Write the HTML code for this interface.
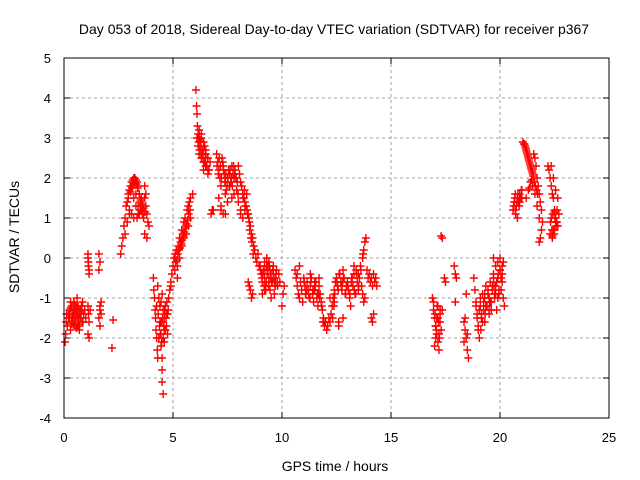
<!DOCTYPE html>
<html><head><meta charset="utf-8"><style>
body{margin:0;background:#fff}
svg{display:block;font-family:"Liberation Sans",sans-serif}
</style></head><body>
<svg id="c" width="640" height="480">
<text x="334" y="34" text-anchor="middle" font-size="14">Day 053 of 2018, Sidereal Day-to-day VTEC variation (SDTVAR) for receiver p367</text>
<text transform="translate(19,237) rotate(-90)" text-anchor="middle" font-size="14">SDTVAR / TECUs</text>
<text x="335" y="471" text-anchor="middle" font-size="14">GPS time / hours</text>
<g id="grid"></g><g id="ticks"></g><g id="marks"></g>
<rect x="64" y="58" width="545" height="360" fill="none" stroke="#000" stroke-width="1"/>
</svg>
<script>
const xTicks=[0,5,10,15,20,25];
const yTicks=[-4,-3,-2,-1,0,1,2,3,4,5];
const times=[0.05,0.08,0.1,0.12,0.15,0.2,0.25,0.3,0.35,0.4,0.45,0.5,0.55,0.6,0.65,0.7,0.75,0.8,0.85,0.9,0.3,0.4,0.5,0.6,0.7,0.8,0.2,0.35,0.45,0.55,0.65,0.75,0.85,0.95,1.0,
1.1,1.12,1.15,1.1,1.12,1.15,1.1,1.12,1.15,1.2,1.1,1.15,1.6,1.65,1.6,1.65,1.7,1.6,1.65,1.7,1.65,2.2,2.25,
2.6,2.65,2.7,2.75,2.8,2.85,2.9,2.95,3.0,2.8,2.9,3.0,3.05,3.1,3.15,3.2,3.25,3.3,3.35,3.4,3.45,3.5,3.55,3.6,3.2,3.3,3.4,3.5,3.6,3.65,3.7,3.75,3.8,3.85,3.9,3.7,3.8,3.7,3.75,3.0,3.1,3.2,3.3,3.4,3.5,
4.1,4.12,4.15,4.18,4.2,4.22,4.25,4.28,4.3,4.3,4.35,4.4,4.4,4.45,4.45,4.5,4.5,4.5,4.55,4.55,4.6,4.6,4.65,4.7,4.7,4.75,4.8,4.85,4.9,4.5,4.6,4.55,4.5,4.45,
4.9,4.95,5.0,5.05,5.1,5.15,5.2,5.25,5.3,5.35,5.4,5.45,5.5,5.55,5.6,5.65,5.7,5.75,5.8,5.2,5.3,5.4,5.5,5.6,5.7,5.8,5.9,
6.05,6.08,6.1,6.12,6.15,6.1,6.15,6.2,6.2,6.25,6.3,6.3,6.35,6.4,6.45,6.5,6.55,6.6,6.65,6.7,6.4,6.5,6.6,6.3,6.4,6.5,6.75,6.8,6.85,
7.0,7.05,7.1,7.15,7.2,7.25,7.3,7.35,7.4,7.45,7.5,7.55,7.6,7.65,7.7,7.75,7.8,7.85,7.9,7.95,7.1,7.2,7.3,7.4,7.5,7.6,7.7,7.8,7.2,7.4,
8.0,8.05,8.1,8.15,8.2,8.25,8.3,8.35,8.4,8.45,8.5,8.55,8.6,8.65,8.7,8.75,8.8,8.85,8.9,8.95,8.1,8.2,8.3,8.0,8.1,8.45,8.5,8.55,8.6,8.65,
9.0,9.05,9.1,9.15,9.2,9.25,9.3,9.35,9.4,9.45,9.5,9.55,9.6,9.65,9.7,9.75,9.8,9.85,9.1,9.2,9.3,9.4,9.5,9.6,9.7,9.2,9.4,9.6,9.9,10.0,10.05,10.1,
10.6,10.65,10.7,10.75,10.8,10.85,10.9,10.95,10.7,10.8,11.0,11.05,11.1,11.15,11.2,11.25,11.3,11.35,11.4,11.45,11.5,11.55,11.6,11.65,11.7,11.75,11.8,11.85,11.9,11.95,11.3,11.5,11.7,
12.0,12.05,12.1,12.15,12.2,12.25,12.3,12.35,12.4,12.45,12.5,12.55,12.6,12.65,12.7,12.75,12.8,12.85,12.9,12.95,12.2,12.4,12.6,12.8,
13.0,13.05,13.1,13.15,13.2,13.25,13.3,13.35,13.4,13.45,13.5,13.55,13.6,13.65,13.7,13.75,13.8,13.85,13.9,13.95,13.7,13.75,13.8,13.3,13.5,
14.0,14.05,14.1,14.15,14.2,14.25,14.3,14.35,14.1,14.15,14.2,
16.9,16.95,17.0,17.05,17.1,17.15,17.2,17.25,17.3,16.95,17.05,17.15,17.25,17.0,17.1,17.2,17.35,17.3,17.35,17.45,17.5,
17.9,17.95,18.0,17.95,18.35,18.4,18.45,18.5,18.55,18.4,18.5,18.45,18.35,
18.8,18.85,18.9,18.95,19.0,19.05,19.1,19.15,19.2,19.25,19.3,19.35,19.4,19.45,19.5,19.55,19.6,19.65,19.7,19.75,19.8,19.85,19.9,19.95,20.0,20.05,20.1,20.15,20.2,19.7,19.8,19.9,20.0,20.1,19.0,19.3,19.5,
20.6,20.65,20.7,20.75,20.8,20.85,20.9,20.95,21.0,21.05,21.1,21.15,21.2,21.25,21.3,21.35,21.4,21.45,21.5,21.55,21.6,21.65,21.7,21.75,21.8,21.85,21.9,21.95,21.2,21.3,21.4,21.5,21.6,21.7,21.8,21.9,21.85,21.8,
22.2,22.25,22.3,22.35,22.4,22.45,22.5,22.55,22.6,22.65,22.7,22.3,22.4,22.5,22.6,22.35,22.45,22.55,22.65,
0.25,0.3,0.38,0.42,0.48,0.52,0.58,0.62,0.68,0.72,0.78,0.82,0.33,0.47,0.57,0.67,0.77,0.87,0.43,0.63,
2.95,3.05,3.12,3.18,3.25,3.32,3.38,3.45,3.52,3.58,3.65,3.72,3.35,3.45,3.55,
4.25,4.32,4.38,4.42,4.48,4.52,4.58,4.62,4.68,4.72,4.78,4.35,4.45,4.65,4.75,
5.12,5.22,5.32,5.42,5.52,5.62,5.72,5.08,5.18,5.28,5.38,5.48,5.58,5.68,5.78,
6.18,6.22,6.28,6.32,6.38,6.42,6.48,6.52,6.58,6.62,6.28,6.38,6.48,6.2,6.25,
7.02,7.08,7.12,7.18,7.22,7.28,7.32,7.38,7.42,7.48,7.52,7.58,7.62,7.68,7.72,7.78,7.82,7.88,7.92,7.98,
8.22,8.28,8.32,8.38,8.42,8.48,8.52,8.58,8.62,8.68,
9.02,9.08,9.12,9.18,9.22,9.28,9.32,9.38,9.42,9.48,9.52,9.58,9.62,9.68,9.72,9.78,9.25,9.45,9.65,9.35,
11.02,11.12,11.22,11.32,11.42,11.52,11.62,11.72,11.82,11.92,11.08,11.28,11.48,11.68,11.88,
12.32,12.42,12.52,12.62,12.72,12.82,12.92,12.38,12.58,12.78,
13.02,13.12,13.22,13.32,13.42,13.52,13.62,13.72,13.18,13.38,
17.02,17.08,17.12,17.18,17.22,17.05,17.15,17.25,
18.9,18.95,19.05,19.1,19.15,19.25,19.3,19.35,19.45,19.5,19.55,19.65,19.7,19.75,19.85,19.9,19.95,20.05,20.1,20.15,19.2,19.4,19.6,19.8,20.0,19.12,19.32,19.52,19.72,19.92,
20.62,20.68,20.72,20.78,20.82,20.88,20.92,20.98,20.7,20.8,20.9,21.0,
21.12,21.18,21.22,21.28,21.32,21.38,21.42,21.48,21.52,21.58,21.62,21.68,21.72,21.35,21.45,
22.32,22.38,22.42,22.48,22.52,22.58,22.62,22.35,22.45,22.55,22.4,22.5];
const values=[-2.1,-1.9,-1.6,-1.4,-1.7,-1.5,-1.3,-1.8,-1.2,-1.5,-1.1,-1.6,-1.3,-1.4,-1.2,-1.7,-1.5,-1.3,-1.6,-1.4,-1.1,-1.5,-1.7,-1.0,-1.8,-1.2,-1.4,-1.6,-1.3,-1.2,-1.5,-1.4,-1.1,-1.3,-1.5,
0.0,-0.2,-0.4,0.1,-0.1,-0.3,-1.2,-1.4,-1.6,-1.3,-1.9,-2.0,0.1,-0.1,-0.3,-1.2,-1.4,-1.5,-1.7,-1.1,-1.3,-2.25,-1.55,
0.1,0.3,0.5,0.8,1.0,1.3,1.4,1.6,1.7,0.6,0.9,1.1,1.8,1.9,1.95,2.0,2.0,1.95,1.9,1.8,1.6,1.4,1.5,1.3,1.5,1.6,1.3,1.2,1.1,1.0,1.5,1.3,1.1,0.9,0.8,0.6,0.5,1.8,1.6,1.2,1.1,1.0,1.3,1.1,1.2,
-0.5,-0.8,-1.0,-1.3,-1.5,-1.8,-2.0,-2.3,-2.5,-0.7,-1.0,-1.2,-1.6,-1.9,-2.2,-2.5,-2.8,-3.1,-3.4,-2.0,-1.5,-1.8,-1.2,-1.4,-1.7,-1.9,-1.0,-0.8,-0.7,-1.6,-2.1,-1.3,-0.9,-1.1,
-0.6,-0.4,-0.2,0.0,0.1,0.2,-0.2,0.3,0.5,0.4,0.7,0.6,0.9,1.0,0.8,1.2,1.3,1.4,1.5,-0.5,0.0,0.3,0.5,0.6,0.8,1.0,1.6,
4.2,3.8,3.6,3.3,3.1,3.0,2.8,3.2,2.6,2.9,3.0,2.5,2.7,2.4,2.8,2.6,2.3,2.5,2.2,2.4,2.2,2.3,2.1,3.1,2.9,2.7,1.1,1.2,1.2,
2.6,2.4,2.2,2.0,1.8,2.5,2.3,2.1,1.9,1.7,2.0,2.2,2.1,1.9,2.3,2.1,2.0,2.2,2.0,1.9,1.5,1.3,1.1,1.6,1.4,1.8,1.5,1.6,1.2,1.1,
2.3,2.1,1.9,1.8,1.6,1.5,1.4,1.3,1.2,1.1,0.9,0.8,0.6,0.5,0.3,0.2,0.0,-0.1,0.1,-0.2,1.1,1.0,1.2,1.4,1.2,-0.6,-0.7,-0.8,-1.0,-0.9,
-0.2,-0.4,-0.6,-0.3,-0.5,-0.7,0.0,-0.3,-0.5,-0.8,-0.4,-0.6,-0.2,-0.9,-0.5,-0.3,-0.7,-0.4,-0.9,-0.8,-0.2,-0.6,-1.0,-0.5,-0.7,-0.1,-0.1,-0.3,-0.6,-1.2,-0.9,-0.7,
-0.3,-0.5,-0.7,-0.9,-1.0,-0.6,-0.8,-1.1,-0.4,-0.2,-0.5,-0.7,-0.9,-0.6,-0.8,-1.0,-0.7,-0.5,-0.9,-1.1,-0.8,-0.6,-1.0,-1.2,-0.7,-0.9,-1.1,-1.3,-1.5,-1.7,-0.4,-0.6,-0.5,
-1.6,-1.8,-1.7,-1.5,-1.6,-1.4,-1.2,-1.0,-0.8,-0.6,-0.5,-0.7,-1.7,-0.4,-0.6,-0.8,-0.3,-0.5,-0.9,-0.7,-1.0,-1.1,-1.6,-1.5,
-0.6,-0.8,-1.0,-1.2,-0.5,-0.7,-0.4,-0.9,-0.3,-0.6,-0.8,-0.5,-0.2,-0.7,0.0,0.2,0.4,0.5,-0.3,-0.5,-0.9,-1.1,-1.0,-0.2,-0.4,
-0.4,-0.6,-0.5,-0.7,-0.4,-0.6,-0.5,-0.7,-1.5,-1.6,-1.4,
-1.0,-1.3,-1.5,-1.7,-1.9,-2.1,-2.3,-1.4,-1.8,-1.1,-2.0,-1.2,-1.6,-2.2,-1.5,-1.9,-1.3,0.55,0.5,-0.5,-0.6,
-0.2,-0.4,-0.5,-1.1,-1.6,-1.8,-2.0,-2.3,-2.5,-1.5,-1.9,-0.9,-2.1,
-0.5,-0.8,-1.1,-1.4,-1.7,-2.0,-1.2,-1.5,-0.9,-1.3,-1.0,-0.7,-1.2,-0.9,-1.4,-0.6,-1.1,-0.8,-0.4,-1.0,-0.7,-1.3,-0.5,-0.9,-0.3,-0.8,-0.6,-0.1,-1.2,0.0,-0.2,-0.1,0.0,-0.4,-1.8,-1.6,-1.3,
1.2,1.4,1.6,1.3,1.5,1.4,1.6,1.5,1.7,2.9,2.85,2.8,2.7,2.6,2.5,2.4,2.3,2.2,2.1,2.6,2.5,2.3,2.0,1.8,1.6,1.4,1.2,0.9,1.5,1.7,1.9,1.8,1.6,1.3,1.0,0.7,0.5,0.4,
2.3,2.2,2.0,1.8,1.6,1.5,1.2,1.0,0.9,0.8,1.1,0.6,0.5,0.7,0.9,2.3,2.0,1.7,1.5,
-1.5,-1.25,-1.45,-1.65,-1.35,-1.55,-1.25,-1.45,-1.65,-1.35,-1.5,-1.2,-1.65,-1.15,-1.75,-1.5,-1.3,-1.6,-1.4,-1.7,
1.5,1.65,1.75,1.85,1.9,1.85,1.75,1.6,1.45,1.35,1.25,1.15,1.0,1.1,1.2,
-1.2,-1.4,-1.7,-1.9,-2.1,-1.5,-1.7,-1.3,-1.5,-1.1,-1.3,-2.0,-1.6,-1.8,-1.4,
-0.1,0.1,0.25,0.45,0.65,0.85,1.1,-0.3,-0.05,0.2,0.35,0.55,0.75,0.95,1.2,
2.9,2.7,2.6,2.5,2.7,2.4,2.6,2.3,2.5,2.2,2.8,2.6,2.4,3.0,2.95,
2.3,2.1,2.5,2.3,2.0,2.4,2.2,1.9,2.1,1.8,2.0,1.8,2.2,2.0,1.8,2.3,2.1,2.0,1.7,1.6,
1.5,1.7,1.3,1.6,1.1,1.0,0.7,0.5,0.4,0.1,
-0.3,-0.5,-0.4,-0.7,-0.3,-0.6,-0.4,-0.7,-0.2,-0.5,-0.6,-0.3,-0.5,-0.7,-0.4,-0.6,-0.8,-0.3,-0.6,-0.2,
-0.6,-0.8,-0.9,-0.6,-0.8,-0.7,-0.9,-1.0,-1.2,-1.6,-0.9,-1.0,-0.8,-0.9,-1.6,
-1.5,-0.9,-0.6,-0.4,-0.7,-0.5,-0.9,-1.2,-0.8,-0.6,
-0.7,-0.9,-0.5,-0.8,-0.4,-0.7,-0.3,0.1,-0.6,-0.9,
-1.4,-1.8,-1.2,-1.6,-2.0,-1.7,-1.5,-1.3,
-1.2,-1.5,-1.3,-1.0,-1.4,-1.1,-0.9,-1.2,-0.8,-1.0,-1.1,-0.7,-0.5,-0.9,-0.6,-1.0,-0.8,-0.5,-0.2,-1.0,-1.6,-1.2,-1.3,-0.9,-0.3,-1.8,-1.4,-1.1,-0.7,-0.4,
1.3,1.5,1.1,1.4,1.6,1.3,1.5,1.7,1.2,1.0,1.4,1.5,
2.85,2.75,2.65,2.55,2.45,2.35,2.25,2.15,2.05,1.9,1.8,1.7,1.6,1.75,1.95,
0.9,0.7,1.1,0.6,1.0,0.8,1.2,1.0,0.7,0.9,0.55,1.15];
const X=t=>64+t*21.8, Y=v=>258-v*40;
const ns="http://www.w3.org/2000/svg";
const grid=document.getElementById('grid'),ticks=document.getElementById('ticks'),marks=document.getElementById('marks');
function mk(tag,at,parent){const e=document.createElementNS(ns,tag);for(const k in at)e.setAttribute(k,at[k]);parent.appendChild(e);return e;}
xTicks.forEach(t=>{
 if(t>0&&t<25){const g=mk('line',{x1:X(t),x2:X(t),y1:58,y2:418,stroke:'#a0a0a0','stroke-dasharray':'3,3'},grid);
 
 }
 const l=mk('text',{x:X(t),y:442,'text-anchor':'middle','font-size':'13'},ticks);l.textContent=t;
 
 
 mk('line',{x1:X(t),x2:X(t),y1:418,y2:412,stroke:'#000'},ticks);
 mk('line',{x1:X(t),x2:X(t),y1:58,y2:64,stroke:'#000'},ticks);
});
yTicks.forEach(v=>{
 if(v>-4&&v<5){const g=mk('line',{x1:64,x2:609,y1:Y(v),y2:Y(v),stroke:'#a0a0a0','stroke-dasharray':'3,3'},grid);
 
 }
 const l=mk('text',{x:51,y:Y(v)+5,'text-anchor':'end','font-size':'13'},ticks);l.textContent=v;
 
 
 mk('line',{x1:64,x2:70,y1:Y(v),y2:Y(v),stroke:'#000'},ticks);
 mk('line',{x1:603,x2:609,y1:Y(v),y2:Y(v),stroke:'#000'},ticks);
});
const n=Math.min(times.length,values.length);
for(let i=0;i<n;i++){
 const x=X(times[i]),y=Y(values[i]);
 const p=mk('path',{d:`M${x-4},${y}H${x+4}M${x},${y-4}V${y+4}`,stroke:'#f00','stroke-width':'1.4',fill:'none'},marks);
 
 
}
</script>
</body></html>
